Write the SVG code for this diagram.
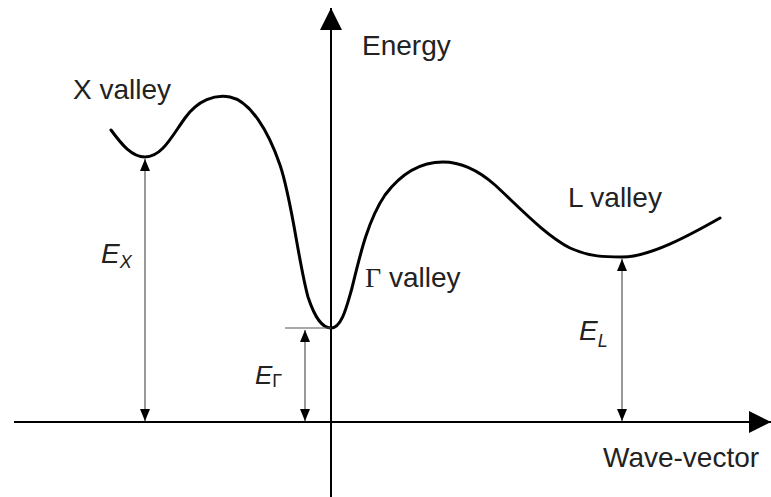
<svg xmlns="http://www.w3.org/2000/svg" width="771" height="497" viewBox="0 0 771 497">
<defs>
<marker id="big" viewBox="0 0 22 22" markerWidth="22" markerHeight="22" refX="22" refY="11" orient="auto" markerUnits="userSpaceOnUse"><path d="M0,0 L22,11 L0,22 Z" fill="#000"/></marker>
<marker id="small" viewBox="0 0 12 10" markerWidth="12" markerHeight="10" refX="12" refY="5" orient="auto-start-reverse" markerUnits="userSpaceOnUse"><path d="M0,0 L12,5 L0,10 Z" fill="#000"/></marker>
</defs>
<style>
.axis{stroke:#000;stroke-width:2;fill:none}
.dim{stroke:#555;stroke-width:1.2;fill:none}
.curve{stroke:#000;stroke-width:3;fill:none;stroke-linecap:round;stroke-linejoin:round}
.lbl{font-family:"Liberation Sans",Arial,sans-serif;font-size:28px;fill:#222}
.sym{font-family:"Liberation Sans",Arial,sans-serif;font-style:italic;fill:#222}
</style>
<rect width="771" height="497" fill="#fff"/>
<g id="axes">
<line class="axis" x1="14" y1="422" x2="771" y2="422" marker-end="url(#big)"/>
<line class="axis" x1="331" y1="497" x2="331" y2="8" marker-end="url(#big)"/>
</g>
<g id="band-curve">
<path class="curve" d="M111,130 C122,145 132,157 145,157 C162,157 172,136 185,118 C198,100 215,94 230,97 C250,101 268,130 280,165 C292,200 298,260 308,297 C315,318 322,328 331,328 C342,328 347,305 352,288 C360,255 368,220 385,195 C400,175 420,162 443,162 C462,162 478,170 495,185 C520,208 545,235 570,248 C590,257 605,257 622,257 C650,257 690,235 720,218"/>
</g>
<g id="connectors">
<line class="dim" x1="145" y1="159" x2="145" y2="421" marker-start="url(#small)" marker-end="url(#small)"/>
<line class="dim" x1="285" y1="328" x2="331" y2="328"/>
<line class="dim" x1="305" y1="330" x2="305" y2="421" marker-start="url(#small)" marker-end="url(#small)"/>
<line class="dim" x1="622" y1="259" x2="622" y2="421" marker-start="url(#small)" marker-end="url(#small)"/>
</g>
<g id="labels">
<text class="lbl" x="73" y="99">X valley</text>
<text class="lbl" x="362" y="55">Energy</text>
<text class="lbl" x="365" y="287"><tspan font-family="'Liberation Serif',serif">Γ</tspan> valley</text>
<text class="lbl" x="568" y="207">L valley</text>
<text class="lbl" x="603" y="467">Wave-vector</text>
<text class="sym" x="101" y="263" font-size="28">E<tspan font-size="18" dy="5">X</tspan></text>
<text class="sym" x="255" y="384" font-size="26">E<tspan font-size="18" font-style="normal" dy="3">Γ</tspan></text>
<text class="sym" x="579" y="340" font-size="28">E<tspan font-size="18" dy="7">L</tspan></text>
</g>
</svg>
